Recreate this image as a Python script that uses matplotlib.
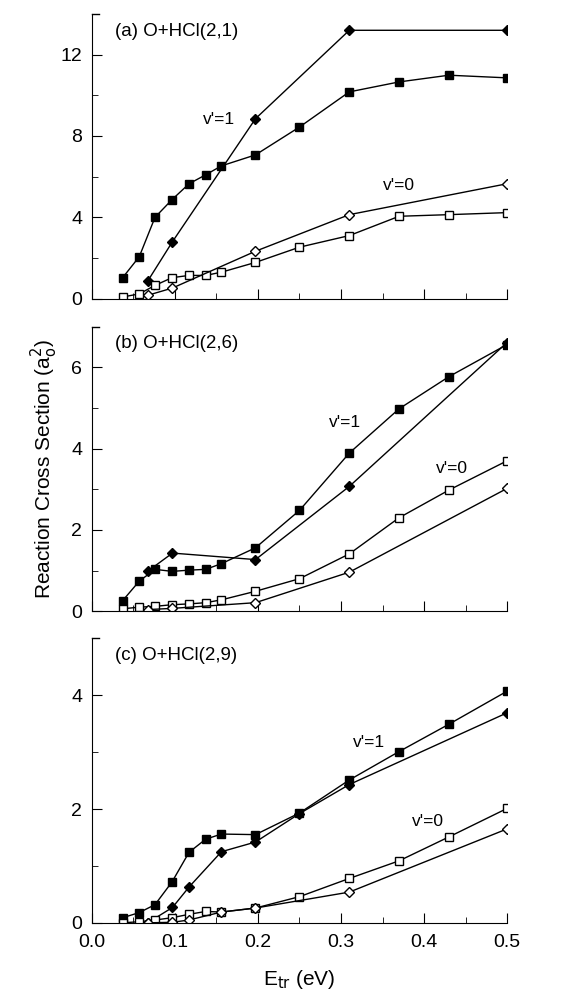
import numpy as np
import matplotlib.pyplot as plt
from matplotlib.ticker import MultipleLocator

x_sq = [0.037, 0.057, 0.076, 0.0965, 0.117, 0.137, 0.156, 0.197, 0.25, 0.31, 0.37, 0.43, 0.5]
x_di = [0.067, 0.097, 0.197, 0.31, 0.5]
x_di_c = [0.067, 0.097, 0.117, 0.156, 0.197, 0.25, 0.31, 0.5]
x_di_c0 = [0.067, 0.097, 0.117, 0.156, 0.197, 0.31, 0.5]

# panel a
a_sq1 = [1.03, 2.06, 4.0, 4.87, 5.65, 6.09, 6.53, 7.07, 8.44, 10.17, 10.66, 10.99, 10.86]
a_di1 = [0.85, 2.8, 8.85, 13.2, 13.2]
a_sq0 = [0.08, 0.23, 0.65, 1.03, 1.14, 1.14, 1.3, 1.78, 2.53, 3.1, 4.05, 4.13, 4.23]
a_di0 = [0.16, 0.52, 2.33, 4.13, 5.65]
# panel b
b_sq1 = [0.26, 0.74, 1.03, 0.98, 1.01, 1.03, 1.17, 1.56, 2.48, 3.89, 4.98, 5.77, 6.56]
b_di1 = [0.98, 1.43, 1.27, 3.07, 6.61]
b_sq0 = [0.06, 0.10, 0.12, 0.16, 0.18, 0.21, 0.28, 0.49, 0.8, 1.41, 2.3, 2.98, 3.7]
b_di0 = [0.04, 0.07, 0.21, 0.96, 3.02]
# panel c
c_sq1 = [0.09, 0.18, 0.32, 0.72, 1.24, 1.47, 1.56, 1.55, 1.93, 2.51, 3.01, 3.49, 4.07]
c_di1 = [0.0, 0.27, 0.63, 1.25, 1.42, 1.92, 2.43, 3.69]
c_sq0 = [0.0, 0.02, 0.05, 0.09, 0.15, 0.20, 0.19, 0.26, 0.46, 0.78, 1.09, 1.51, 2.01]
c_di0 = [0.0, 0.01, 0.05, 0.19, 0.26, 0.54, 1.65]

panels = [
    ('(a) O+HCl(2,1)', x_di, a_di1, a_sq1, x_di, a_di0, a_sq0, 14, 4, 2, (0.134, 8.8), (0.35, 5.55)),
    ('(b) O+HCl(2,6)', x_di, b_di1, b_sq1, x_di, b_di0, b_sq0, 7, 2, 1, (0.285, 4.65), (0.414, 3.5)),
    ('(c) O+HCl(2,9)', x_di_c, c_di1, c_sq1, x_di_c0, c_di0, c_sq0, 5, 2, 1, (0.314, 3.17), (0.385, 1.78)),
]

plt.rcParams['font.family'] = 'Liberation Sans'
fig = plt.figure(figsize=(5.71, 10.02), dpi=100)
bottoms = [0.702, 0.390, 0.079]
for i, (title, xd1, d1, s1, xd0, d0, s0, ymax, maj, mnr, p1, p0) in enumerate(panels):
    ax = fig.add_axes([0.161, bottoms[i], 0.727, 0.284])
    kw = dict(color='black', lw=1, markersize=6)
    ax.plot(x_sq, s1, marker='s', mfc='black', **kw)
    ax.plot(xd1, d1, marker='D', mfc='black', markersize=5.5, color='black', lw=1)
    ax.plot(x_sq, s0, marker='s', mfc='white', **kw)
    ax.plot(xd0, d0, marker='D', mfc='white', markersize=5.5, color='black', lw=1)
    ax.set_xlim(0, 0.5)
    ax.set_ylim(0, ymax)
    ax.spines['top'].set_visible(False)
    ax.spines['right'].set_visible(False)
    ax.plot([0, 0.008], [ymax, ymax], color='black', lw=1, clip_on=False)
    ax.xaxis.set_major_locator(MultipleLocator(0.1))
    ax.xaxis.set_minor_locator(MultipleLocator(0.05))
    ax.yaxis.set_major_locator(MultipleLocator(maj))
    ax.yaxis.set_minor_locator(MultipleLocator(mnr))
    ax.tick_params(direction='in', length=7, labelsize=14)
    ax.tick_params(axis='x', pad=8)
    ax.tick_params(axis='y', pad=7)
    ax.tick_params(which='minor', direction='in', length=4)
    if i < 2:
        ax.set_xticklabels([])
    ax.text(0.055, 0.97, title, transform=ax.transAxes, fontsize=13.5, va='top')
    ax.text(p1[0], p1[1], "v'=1", fontsize=12.5, va='center')
    ax.text(p0[0], p0[1], "v'=0", fontsize=12.5, va='center')
    if i == 2:
        ax.set_xlabel(r'E$_{\rm tr}$ (eV)', fontsize=15, labelpad=12)
    if i == 1:
        ax.set_ylabel(r'Reaction Cross Section (a$_{\rm o}^{2}$)', fontsize=15, labelpad=8)

plt.savefig('out.png', dpi=100)
